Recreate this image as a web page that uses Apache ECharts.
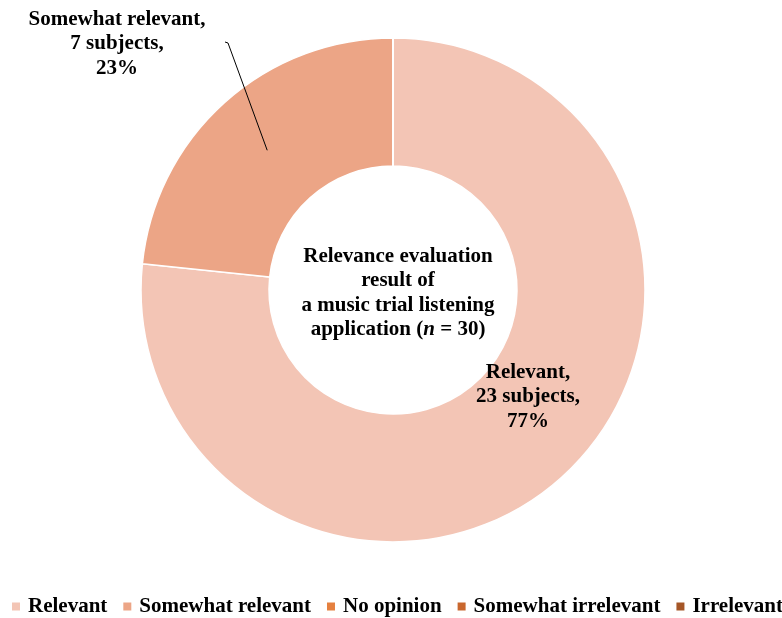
<!DOCTYPE html>
<html>
<head>
<meta charset="utf-8">
<script src="https://cdn.jsdelivr.net/npm/echarts@6/dist/echarts.min.js"></script>
<style>
  html, body { margin: 0; padding: 0; background: #fff; }
  #chart { width: 782px; height: 618px; }
</style>
</head>
<body>
<div id="chart"></div>
<script>
// Response categories and number of subjects in each
const categories = ['Relevant', 'Somewhat relevant', 'No opinion', 'Somewhat irrelevant', 'Irrelevant'];
const subjects = [23, 7, 0, 0, 0];
const colors = ['#F3C5B5', '#ECA586', '#E5803F', '#C9672E', '#A55627'];

const FONT = '"Liberation Serif", "Times New Roman", serif';

// Ring geometry
const CX = 393, CY = 290, R_IN = 124, R_OUT = 252;

const chart = echarts.init(document.getElementById('chart'), null, { renderer: 'canvas' });

const pieData = categories.map((name, i) => ({
  name,
  value: subjects[i],
  itemStyle: { color: colors[i] },
  label: { show: subjects[i] > 0 }
}));

// Callout anchor: middle of the "Somewhat relevant" slice (mid angle, mid radius)
const total = subjects.reduce((a, b) => a + b, 0);
const before = subjects.slice(0, 1).reduce((a, b) => a + b, 0);
const midFrac = (before + subjects[1] / 2) / total;
const midAngle = (90 - midFrac * 360) * Math.PI / 180;
const midR = (R_IN + R_OUT) / 2;
const anchor = [CX + midR * Math.cos(midAngle), CY - midR * Math.sin(midAngle)];

// Label placement: callout for the small slice, text on the ring for the large one
function placeLabel(params) {
  if (params.dataIndex === 0) {
    return { x: 528, y: 397, align: 'center', verticalAlign: 'middle' };
  }
  if (params.dataIndex === 1) {
    return { x: 117, y: 44, align: 'center', verticalAlign: 'middle' };
  }
  return {};
}

chart.setOption({
  backgroundColor: '#fff',
  animation: false,
  title: {
    text: '{b|Relevance evaluation}\n{b|result of}\n{b|a music trial listening}\n{b|application (}{i|n}{b| = 30)}',
    left: CX,
    top: 288,
    textAlign: 'center',
    textVerticalAlign: 'middle',
    textStyle: {
      rich: {
        b: { fontFamily: FONT, fontWeight: 'bold', fontSize: 21, lineHeight: 24.5, color: '#000' },
        i: { fontFamily: FONT, fontWeight: 'bold', fontStyle: 'italic', fontSize: 21, lineHeight: 24.5, color: '#000' }
      }
    }
  },
  legend: {
    data: categories,
    left: 5,
    top: 591,
    width: 1200,
    icon: 'rect',
    itemWidth: 10,
    itemHeight: 10,
    itemGap: 14,
    textStyle: { fontFamily: FONT, fontWeight: 'bold', fontSize: 21, color: '#000', padding: [0, 0, 0, 2] },
    selectedMode: false
  },
  graphic: [{
    type: 'polyline',
    z: 100,
    shape: { points: [anchor, [228, 43], [225, 42]] },
    style: { stroke: '#000', lineWidth: 1, fill: null }
  }],
  series: [{
    type: 'pie',
    center: [CX, CY],
    radius: [R_IN, R_OUT],
    startAngle: 90,
    clockwise: true,
    percentPrecision: 0,
    stillShowZeroSum: false,
    itemStyle: { borderColor: '#fff', borderWidth: 1.5 },
    label: {
      show: true,
      position: 'outside',
      overflow: 'none',
      formatter: p => p.name + ',\n' + p.value + ' subjects,\n' + p.percent + '%',
      fontFamily: FONT,
      fontWeight: 'bold',
      fontSize: 21,
      lineHeight: 24.5,
      color: '#000',
      align: 'center'
    },
    labelLine: { show: false },
    labelLayout: placeLabel,
    emphasis: { disabled: true },
    data: pieData
  }]
});
</script>
</body>
</html>
